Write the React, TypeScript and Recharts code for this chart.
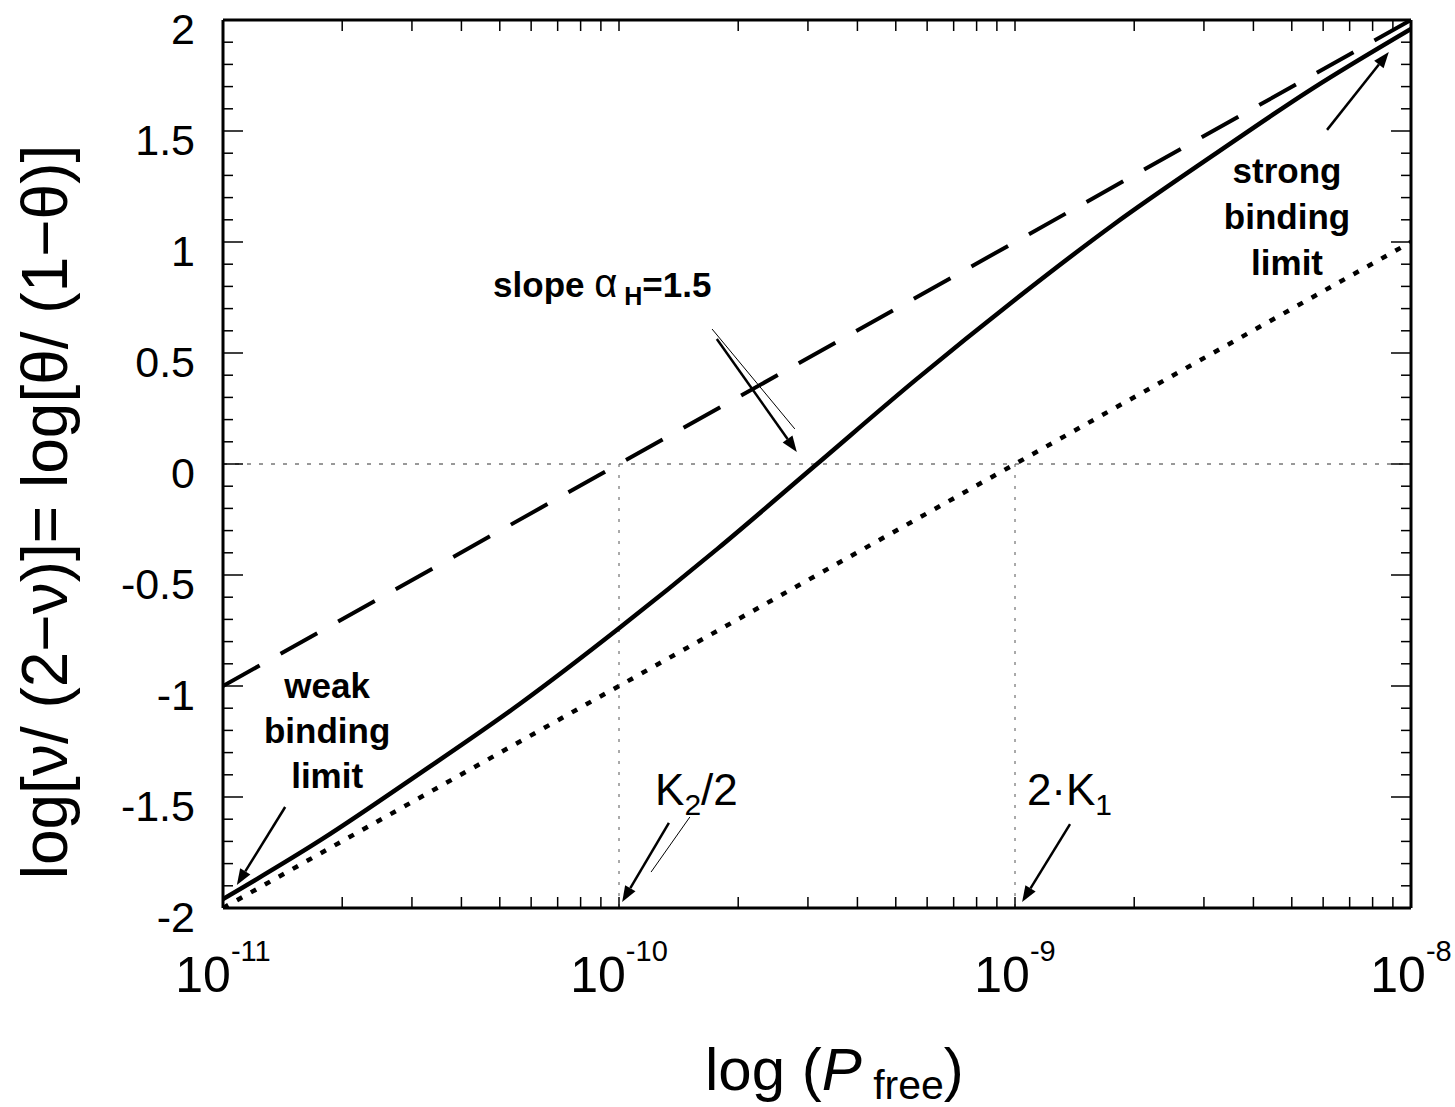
import React from 'react';
import { LineChart, Line, XAxis, YAxis, ReferenceLine, ReferenceDot, Label } from 'recharts';

// x is log10(P_free)
const logP = [-11, -10.75, -10.5, -10.25, -10, -9.75, -9.5, -9.25, -9, -8.75, -8.5, -8.25, -8];
const measured = [-1.96, -1.69, -1.39, -1.08, -0.74, -0.38, 0, 0.38, 0.74, 1.08, 1.39, 1.69, 1.96];

// strong binding limit (dashed) and weak binding limit (dotted), straight lines
const strongX = [-11, -8];
const strongY = [-1, 2];
const weakX = [-11, -8];
const weakY = [-2, 1];

// axis ticks
const decades = [-11, -10, -9, -8];
const minorFactors = [2, 3, 4, 5, 6, 7, 8, 9];
const yTickCount = 41; // -2 .. 2 every 0.1

const solidData = logP.map((x, i) => ({ x, y: measured[i] }));
const strongData = strongX.map((x, i) => ({ x, y: strongY[i] }));
const weakData = weakX.map((x, i) => ({ x, y: weakY[i] }));

const xTicks: number[] = [];
decades.forEach((d, i) => {
  xTicks.push(d);
  if (i < decades.length - 1) minorFactors.forEach((f) => xTicks.push(d + Math.log10(f)));
});
const yTicks = Array.from({ length: yTickCount }, (_, i) => (i - 20) / 10);

const FONT = '"Liberation Sans", Arial, Helvetica, sans-serif';
const isMajorY = (v: number) => Math.abs(v * 2 - Math.round(v * 2)) < 1e-6;
const fmtY = (v: number) => {
  const s = String(Number(v.toFixed(1)));
  return s === '-0' ? '0' : s;
};

const BottomTick = (p: any) => {
  const { x, y, payload } = p;
  const v = payload.value;
  const major = decades.includes(v);
  return (
    <g>
      <line x1={x} y1={y} x2={x} y2={y - 11} stroke="#000" strokeWidth={1.5} />
      {major && (
        <text x={x} y={y + 84} textAnchor="middle" fontFamily={FONT} fill="#000">
          <tspan fontSize={50}>10</tspan>
          <tspan fontSize={29} dy={-31}>{String(v)}</tspan>
        </text>
      )}
    </g>
  );
};

const TopTick = (p: any) => {
  const { x, y } = p;
  return <line x1={x} y1={y} x2={x} y2={y + 11} stroke="#000" strokeWidth={1.5} />;
};

const LeftTick = (p: any) => {
  const { x, y, payload } = p;
  const v = payload.value;
  const major = isMajorY(v);
  return (
    <g>
      <line x1={x} y1={y} x2={x + (major ? 20 : 10)} y2={y} stroke="#000" strokeWidth={1.5} />
      {major && (
        <text x={x - 28} y={y + 24} textAnchor="end" fontFamily={FONT} fontSize={43} fill="#000">
          {fmtY(v)}
        </text>
      )}
    </g>
  );
};

const RightTick = (p: any) => {
  const { x, y, payload } = p;
  const major = isMajorY(payload.value);
  return <line x1={x} y1={y} x2={x - (major ? 20 : 10)} y2={y} stroke="#000" strokeWidth={1.5} />;
};

// arrow drawn along a reference segment, head at the second point
const arrow = (width: number, head: boolean) => (p: any) => {
  const { x1, y1, x2, y2 } = p;
  const dx = x2 - x1;
  const dy = y2 - y1;
  const len = Math.sqrt(dx * dx + dy * dy) || 1;
  const ux = dx / len;
  const uy = dy / len;
  const hl = 16;
  const hw = 6;
  const bx = x2 - ux * hl;
  const by = y2 - uy * hl;
  return (
    <g>
      <line x1={x1} y1={y1} x2={head ? bx : x2} y2={head ? by : y2} stroke="#000" strokeWidth={width} />
      {head && (
        <polygon
          points={`${x2},${y2} ${bx - uy * hw},${by + ux * hw} ${bx + uy * hw},${by - ux * hw}`}
          fill="#000"
        />
      )}
    </g>
  );
};

const textAt = (content: React.ReactNode, anchor: string, size: number, bold: boolean) => (p: any) => (
  <text
    x={p.cx}
    y={p.cy}
    textAnchor={anchor}
    fontFamily={FONT}
    fontSize={size}
    fontWeight={bold ? 'bold' : 'normal'}
    fill="#000"
  >
    {content}
  </text>
);

const YTitle = (p: any) => {
  const vb = p.viewBox || { x: 0, y: 20 };
  const cx = vb.x + 67;
  const cy = vb.y + 492;
  return (
    <text
      transform={`translate(${cx},${cy}) rotate(-90)`}
      textAnchor="middle"
      fontFamily={FONT}
      fontSize={64}
      fill="#000"
    >
      log[ν/ (2−ν)]= log[θ/ (1−θ)]
    </text>
  );
};

const XTitle = (p: any) => {
  const vb = p.viewBox || { x: 223, y: 908 };
  return (
    <text x={vb.x + 482} y={vb.y + 182} fontFamily={FONT} fontSize={60} fill="#000">
      log (<tspan fontStyle="italic">P</tspan>
      <tspan fontSize={41} dy={9}> free</tspan>
      <tspan dy={-9}>)</tspan>
    </text>
  );
};

export default function App() {
  return (
    <div style={{ position: 'absolute', left: 0, top: 0, width: 1455, height: 1107, background: '#fff' }}>
      <LineChart width={1455} height={1107} margin={{ top: 0, right: 20, bottom: 0, left: 0 }}>
        <XAxis
          dataKey="x"
          type="number"
          domain={[-11, -8]}
          allowDataOverflow
          ticks={xTicks}
          interval={0}
          tick={(p: any) => <BottomTick {...p} />}
          tickLine={false}
          tickSize={0}
          tickMargin={0}
          axisLine={{ stroke: '#000', strokeWidth: 3 }}
          height={199}
        >
          <Label content={(p: any) => <XTitle {...p} />} />
        </XAxis>
        <XAxis
          xAxisId="top"
          orientation="top"
          dataKey="x"
          type="number"
          domain={[-11, -8]}
          allowDataOverflow
          ticks={xTicks}
          interval={0}
          tick={(p: any) => <TopTick {...p} />}
          tickLine={false}
          tickSize={0}
          tickMargin={0}
          axisLine={{ stroke: '#000', strokeWidth: 3 }}
          height={20}
        />
        <YAxis
          type="number"
          domain={[-2, 2]}
          allowDataOverflow
          ticks={yTicks}
          interval={0}
          tick={(p: any) => <LeftTick {...p} />}
          tickLine={false}
          tickSize={0}
          tickMargin={0}
          axisLine={{ stroke: '#000', strokeWidth: 3 }}
          width={223}
        >
          <Label content={(p: any) => <YTitle {...p} />} />
        </YAxis>
        <YAxis
          yAxisId="right"
          orientation="right"
          type="number"
          domain={[-2, 2]}
          allowDataOverflow
          ticks={yTicks}
          interval={0}
          tick={(p: any) => <RightTick {...p} />}
          tickLine={false}
          tickSize={0}
          tickMargin={0}
          axisLine={{ stroke: '#000', strokeWidth: 3 }}
          width={24}
        />

        <ReferenceLine y={0} stroke="#333" strokeWidth={1} strokeDasharray="4 8" />
        <ReferenceLine segment={[{ x: -10, y: 0 }, { x: -10, y: -2 }]} stroke="#555" strokeWidth={1} strokeDasharray="3 8" />
        <ReferenceLine segment={[{ x: -9, y: 0 }, { x: -9, y: -2 }]} stroke="#555" strokeWidth={1} strokeDasharray="3 8" />

        <Line
          data={strongData}
          dataKey="y"
          type="linear"
          stroke="#000"
          strokeWidth={4}
          strokeDasharray="42 24"
          dot={false}
          isAnimationActive={false}
        />
        <Line
          data={weakData}
          xAxisId="top"
          yAxisId="right"
          dataKey="y"
          type="linear"
          stroke="#000"
          strokeWidth={4.5}
          strokeDasharray="6 10"
          dot={false}
          isAnimationActive={false}
        />
        <Line
          data={solidData}
          dataKey="y"
          type="monotone"
          stroke="#000"
          strokeWidth={4.5}
          dot={false}
          isAnimationActive={false}
        />

        {/* annotation arrows */}
        <ReferenceLine segment={[{ x: -9.765, y: 0.608 }, { x: -9.556, y: 0.158 }]} shape={arrow(1, false)} />
        <ReferenceLine segment={[{ x: -9.753, y: 0.563 }, { x: -9.551, y: 0.054 }]} shape={arrow(2.5, true)} />
        <ReferenceLine segment={[{ x: -10.843, y: -1.545 }, { x: -10.965, y: -1.896 }]} shape={arrow(2.5, true)} />
        <ReferenceLine segment={[{ x: -8.212, y: 1.505 }, { x: -8.056, y: 1.856 }]} shape={arrow(2.5, true)} />
        <ReferenceLine segment={[{ x: -9.821, y: -1.59 }, { x: -9.919, y: -1.838 }]} shape={arrow(1, false)} />
        <ReferenceLine segment={[{ x: -9.874, y: -1.617 }, { x: -9.992, y: -1.973 }]} shape={arrow(2.5, true)} />
        <ReferenceLine segment={[{ x: -8.861, y: -1.622 }, { x: -8.982, y: -1.973 }]} shape={arrow(2.5, true)} />

        {/* annotation texts */}
        <ReferenceDot
          x={-10.318}
          y={0.752}
          r={0}
          shape={textAt(
            <>
              <tspan>slope </tspan>
              <tspan fontWeight="normal" fontSize={40}>α</tspan>
              <tspan fontSize={25} dy={8}> H</tspan>
              <tspan dy={-8}>=1.5</tspan>
            </>,
            'start',
            35,
            true
          )}
        />
        <ReferenceDot x={-10.737} y={-1.054} r={0} shape={textAt('weak', 'middle', 35, true)} />
        <ReferenceDot x={-10.737} y={-1.257} r={0} shape={textAt('binding', 'middle', 35, true)} />
        <ReferenceDot x={-10.737} y={-1.459} r={0} shape={textAt('limit', 'middle', 35, true)} />
        <ReferenceDot x={-8.313} y={1.266} r={0} shape={textAt('strong', 'middle', 35, true)} />
        <ReferenceDot x={-8.313} y={1.059} r={0} shape={textAt('binding', 'middle', 35, true)} />
        <ReferenceDot x={-8.313} y={0.851} r={0} shape={textAt('limit', 'middle', 35, true)} />
        <ReferenceDot
          x={-9.909}
          y={-1.536}
          r={0}
          shape={textAt(
            <>
              <tspan>K</tspan>
              <tspan fontSize={30} dy={10}>2</tspan>
              <tspan dy={-10}>/2</tspan>
            </>,
            'start',
            44,
            false
          )}
        />
        <ReferenceDot
          x={-8.97}
          y={-1.536}
          r={0}
          shape={textAt(
            <>
              <tspan>2·K</tspan>
              <tspan fontSize={30} dy={10}>1</tspan>
            </>,
            'start',
            44,
            false
          )}
        />
      </LineChart>
    </div>
  );
}
